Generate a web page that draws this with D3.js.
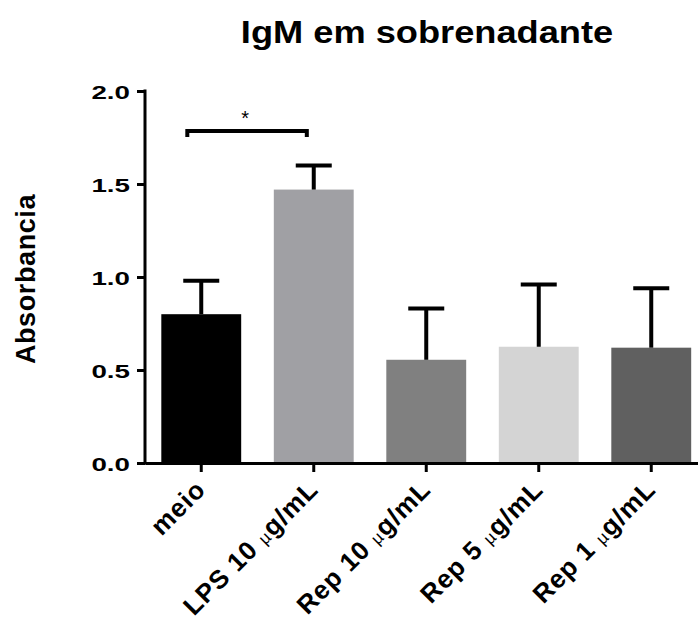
<!DOCTYPE html>
<html>
<head>
<meta charset="utf-8">
<script src="https://cdn.jsdelivr.net/npm/d3@7"></script>
<style>
  body { margin: 0; background: #fff; }
  svg { display: block; }
  text { font-family: "Liberation Sans", Arial, sans-serif; fill: #000; }
</style>
</head>
<body>
<svg width="698" height="623"></svg>
<script>
// data
var categories = ["meio", "LPS 10 ", "Rep 10 ", "Rep 5 ", "Rep 1 "];
var unitLabel = "g/mL";
var means = [0.80, 1.47, 0.555, 0.625, 0.62];
var errUp = [0.98, 1.60, 0.83, 0.96, 0.94];
var barColors = ["#000000", "#a0a0a4", "#808080", "#d4d4d4", "#606060"];
var yTicks = [0, 0.5, 1.0, 1.5, 2.0];
var sigPair = [0, 1];
var sigLevel = 1.785;

var svg = d3.select("svg");

var x = d3.scaleBand()
    .domain(categories)
    .range([145, 707.5])
    .paddingInner(0.29)
    .paddingOuter(0.145);

var y = d3.scaleLinear()
    .domain([0, 2])
    .range([463, 91]);

//title
svg.append("text")
    .attr("transform", "translate(427,43) scale(1.15,1)")
    .attr("text-anchor", "middle")
    .style("font-size", "31.5px")
    .style("font-weight", "bold")
    .text("IgM em sobrenadante");

//y axis title
svg.append("text")
    .attr("transform", "translate(35,279) rotate(-90)")
    .attr("text-anchor", "middle")
    .style("font-size", "27px")
    .style("font-weight", "bold")
    .style("letter-spacing", "0.6px")
    .text("Absorbancia");

//bars
svg.append("g")
    .selectAll("rect")
    .data(means)
    .enter().append("rect")
    .attr("x", function(d, i) { return x(categories[i]); })
    .attr("y", function(d) { return y(d); })
    .attr("width", x.bandwidth())
    .attr("height", function(d) { return y(0) - y(d); })
    .attr("fill", function(d, i) { return barColors[i]; });

//error bars (upper only)
var err = svg.append("g")
    .attr("stroke", "#000")
    .attr("stroke-width", 4);

err.selectAll("line.stem")
    .data(errUp)
    .enter().append("line")
    .attr("class", "stem")
    .attr("x1", function(d, i) { return x(categories[i]) + x.bandwidth() / 2; })
    .attr("x2", function(d, i) { return x(categories[i]) + x.bandwidth() / 2; })
    .attr("y1", function(d, i) { return y(means[i]); })
    .attr("y2", function(d) { return y(d); });

err.selectAll("line.cap")
    .data(errUp)
    .enter().append("line")
    .attr("class", "cap")
    .attr("x1", function(d, i) { return x(categories[i]) + x.bandwidth() / 2 - 18; })
    .attr("x2", function(d, i) { return x(categories[i]) + x.bandwidth() / 2 + 18; })
    .attr("y1", function(d) { return y(d); })
    .attr("y2", function(d) { return y(d); });

//axes
var yAxis = svg.append("g")
    .attr("transform", "translate(145,0)")
    .call(d3.axisLeft(y).tickValues(yTicks).tickFormat(d3.format(".1f")).tickSize(8).tickSizeOuter(0));

var xAxis = svg.append("g")
    .attr("transform", "translate(0,463)")
    .call(d3.axisBottom(x).tickSize(9).tickSizeOuter(0).tickFormat(""));

[yAxis, xAxis].forEach(function(a) {
    a.select(".domain").attr("stroke-width", 3);
    a.selectAll(".tick line").attr("stroke-width", 3);
});
yAxis.select(".domain").attr("d", "M0," + (y(2) - 1.5) + "V" + (y(0) + 1.5));

//wide tick labels
yAxis.selectAll(".tick text")
    .attr("x", null)
    .attr("dy", null)
    .attr("transform", "translate(-15,7) scale(1.5,1)")
    .style("font-size", "18.5px")
    .style("font-weight", "bold");

//rotated category labels
var lab = svg.append("g")
    .selectAll("text")
    .data(categories)
    .enter().append("text")
    .attr("transform", function(d) {
        return "translate(" + (x(d) + x.bandwidth() / 2 + 6) + ",491) rotate(-45)";
    })
    .attr("text-anchor", "end")
    .attr("xml:space", "preserve")
    .style("white-space", "pre")
    .style("font-size", "26px")
    .style("font-weight", "bold")
    .style("letter-spacing", "1px");

lab.each(function(d, i) {
    var t = d3.select(this);
    if (i === 0) { t.text(d); return; }
    t.append("tspan").text(d);
    t.append("tspan").style("font-size", "17px").style("font-weight", "normal").text("\u00b5");
    t.append("tspan").text(unitLabel);
});

//significance bracket
var bx1 = x(categories[sigPair[0]]) + 26;
var bx2 = x(categories[sigPair[1]]) + 33;
svg.append("path")
    .attr("d", "M" + bx1 + "," + (y(sigLevel) + 6) + "V" + y(sigLevel) + "H" + bx2 + "V" + (y(sigLevel) + 6))
    .attr("fill", "none")
    .attr("stroke", "#000")
    .attr("stroke-width", 4);

svg.append("text")
    .attr("x", (bx1 + bx2) / 2 - 2)
    .attr("y", y(sigLevel) - 6)
    .attr("text-anchor", "middle")
    .style("font-size", "20px")
    .text("*");
</script>
</body>
</html>
